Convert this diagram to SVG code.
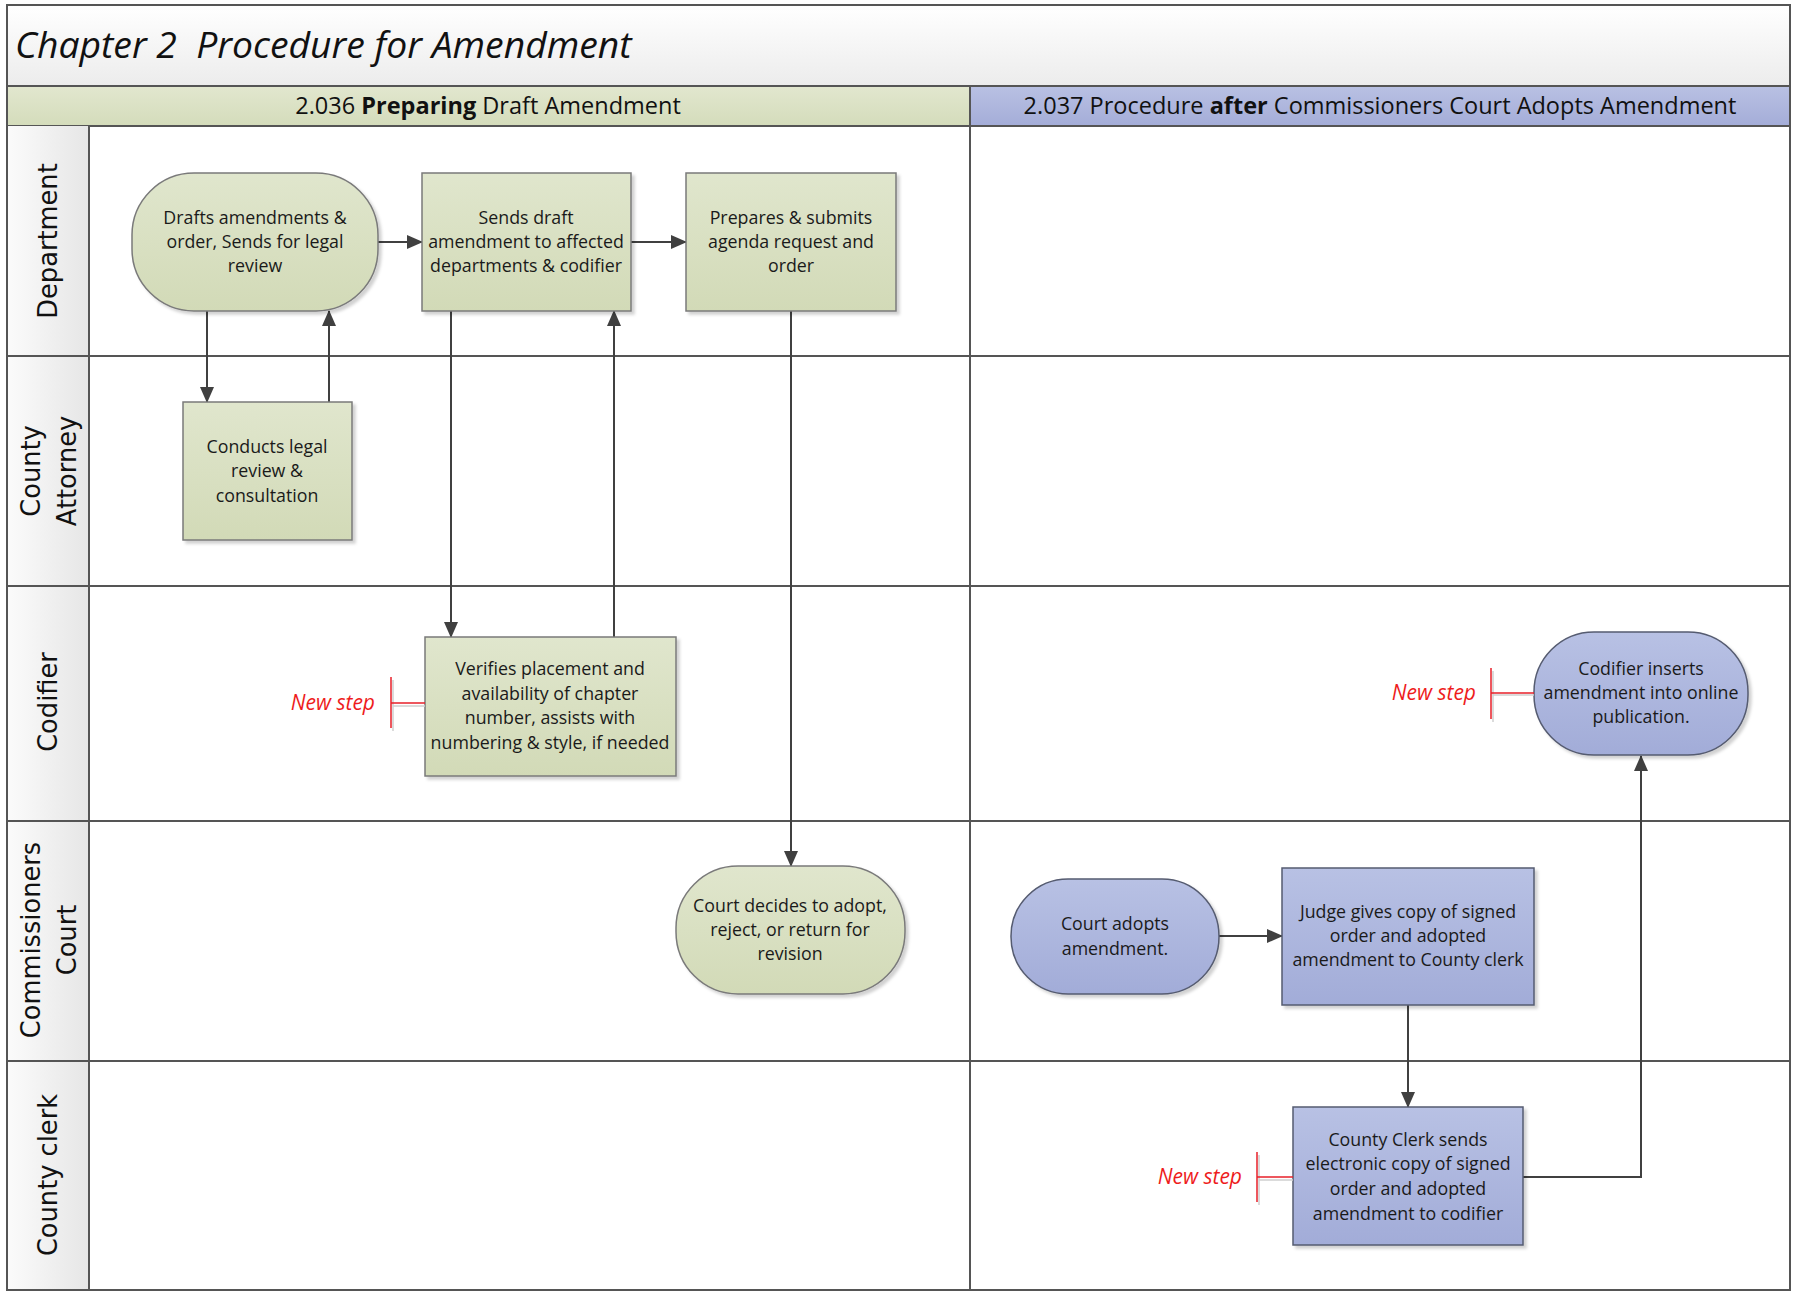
<svg xmlns="http://www.w3.org/2000/svg" width="1797" height="1291" viewBox="0 0 1797 1291">
<defs>
<linearGradient id="gTitle" x1="0" y1="0" x2="0" y2="1"><stop offset="0" stop-color="#ffffff"/><stop offset="1" stop-color="#ececec"/></linearGradient>
<linearGradient id="gLane" x1="0" y1="0" x2="1" y2="0"><stop offset="0" stop-color="#fbfbfb"/><stop offset="1" stop-color="#e6e6e6"/></linearGradient>
<linearGradient id="gPhG" x1="0" y1="0" x2="0" y2="1"><stop offset="0" stop-color="#e2e7cf"/><stop offset="1" stop-color="#d4dcbb"/></linearGradient>
<linearGradient id="gPhB" x1="0" y1="0" x2="0" y2="1"><stop offset="0" stop-color="#b9c1e3"/><stop offset="1" stop-color="#a4add8"/></linearGradient>
<linearGradient id="gNG" x1="0" y1="0" x2="0" y2="1"><stop offset="0" stop-color="#e0e6cd"/><stop offset="1" stop-color="#d2dab7"/></linearGradient>
<linearGradient id="gNB" x1="0" y1="0" x2="0" y2="1"><stop offset="0" stop-color="#b8c1e4"/><stop offset="1" stop-color="#a2acd8"/></linearGradient>
<filter id="sh" x="-10%" y="-10%" width="130%" height="130%"><feDropShadow dx="3" dy="3" stdDeviation="1.5" flood-color="#000" flood-opacity="0.18"/></filter>
<marker id="arr" markerUnits="userSpaceOnUse" markerWidth="16" markerHeight="14" viewBox="0 0 16 14" refX="15" refY="7" orient="auto"><path d="M0,0 L16,7 L0,14 Z" fill="#404040"/></marker>
<style>
.frame{fill:none;stroke:#555;stroke-width:2}
.lane{stroke:#555;stroke-width:2;fill:none}
.title{font-family:"Open Sans","DejaVu Sans",sans-serif;font-style:italic;font-size:37.3px;fill:#111;white-space:pre}
.phase{font-family:"Open Sans","DejaVu Sans",sans-serif;font-size:23.5px;fill:#111;text-anchor:middle}
.lbl{font-family:"DejaVu Sans",sans-serif;font-size:25.7px;fill:#111;text-anchor:middle}
.ng{fill:url(#gNG);stroke:#7a7a7a;stroke-width:1.5;filter:url(#sh)}
.nb{fill:url(#gNB);stroke:#555b70;stroke-width:1.5;filter:url(#sh)}
.nt{font-family:"Open Sans","DejaVu Sans",sans-serif;font-size:17.8px;fill:#1a1a1a;text-anchor:middle}
.con{stroke:#404040;stroke-width:2;fill:none;marker-end:url(#arr)}
.new{font-family:"Open Sans","DejaVu Sans",sans-serif;font-style:italic;font-size:21px;fill:#ee1c1c;text-anchor:end}
.br{stroke:#e8202a;stroke-width:1.5;fill:none}
.brs{stroke:#d0d0d0;stroke-width:1.5;fill:none}
</style>
</defs>
<rect x="0" y="0" width="1797" height="1291" fill="#ffffff"/>
<g id="pool">
<rect x="7" y="5" width="1783" height="81" fill="url(#gTitle)"/>
<text class="title" x="15" y="58" xml:space="preserve">Chapter 2  Procedure for Amendment</text>
<rect x="7" y="86" width="963" height="40" fill="url(#gPhG)" stroke="#555" stroke-width="2"/>
<rect x="970" y="86" width="820" height="40" fill="url(#gPhB)" stroke="#555" stroke-width="2"/>
<text class="phase" x="488" y="114">2.036 <tspan font-weight="bold">Preparing</tspan> Draft Amendment</text>
<text class="phase" x="1380" y="114">2.037 Procedure <tspan font-weight="bold">after</tspan> Commissioners Court Adopts Amendment</text>
<rect x="7" y="126" width="82" height="1164" fill="url(#gLane)"/>
<line class="lane" x1="89" y1="126" x2="89" y2="1290"/>
<line class="lane" x1="970" y1="126" x2="970" y2="1290"/>
<line class="lane" x1="7" y1="356" x2="1790" y2="356"/>
<line class="lane" x1="7" y1="586" x2="1790" y2="586"/>
<line class="lane" x1="7" y1="821" x2="1790" y2="821"/>
<line class="lane" x1="7" y1="1061" x2="1790" y2="1061"/>
<rect class="frame" x="7" y="5" width="1783" height="1285"/>
<text class="lbl" transform="translate(57,241) rotate(-90)">Department</text>
<text class="lbl" transform="translate(40,471) rotate(-90)">County</text>
<text class="lbl" transform="translate(76,471) rotate(-90)">Attorney</text>
<text class="lbl" transform="translate(57,702) rotate(-90)">Codifier</text>
<text class="lbl" transform="translate(40,940) rotate(-90)">Commissioners</text>
<text class="lbl" transform="translate(76,940) rotate(-90)">Court</text>
<text class="lbl" transform="translate(57,1175) rotate(-90)">County clerk</text>
</g>
<g id="connectors">
<line class="con" x1="378" y1="242" x2="422" y2="242"/>
<line class="con" x1="631" y1="242" x2="686" y2="242"/>
<line class="con" x1="207" y1="311" x2="207" y2="402"/>
<line class="con" x1="329" y1="402" x2="329" y2="311"/>
<line class="con" x1="451" y1="311" x2="451" y2="637"/>
<line class="con" x1="614" y1="637" x2="614" y2="311"/>
<line class="con" x1="791" y1="311" x2="791" y2="866"/>
<line class="con" x1="1219" y1="936" x2="1282" y2="936"/>
<line class="con" x1="1408" y1="1005" x2="1408" y2="1107"/>
<polyline class="con" points="1523,1177 1641,1177 1641,756"/>
</g>
<g id="n1"><rect class="ng" x="132" y="173" width="246" height="138" rx="62" ry="62"/>
<text class="nt" x="255" y="224">Drafts amendments &amp;</text><text class="nt" x="255" y="248">order, Sends for legal</text><text class="nt" x="255" y="272">review</text></g>
<g id="n2"><rect class="ng" x="422" y="173" width="209" height="138"/>
<text class="nt" x="526" y="224">Sends draft</text><text class="nt" x="526" y="248">amendment to affected</text><text class="nt" x="526" y="272">departments &amp; codifier</text></g>
<g id="n3"><rect class="ng" x="686" y="173" width="210" height="138"/>
<text class="nt" x="791" y="224">Prepares &amp; submits</text><text class="nt" x="791" y="248">agenda request and</text><text class="nt" x="791" y="272">order</text></g>
<g id="n4"><rect class="ng" x="183" y="402" width="169" height="138"/>
<text class="nt" x="267" y="453">Conducts legal</text><text class="nt" x="267" y="477">review &amp;</text><text class="nt" x="267" y="502">consultation</text></g>
<g id="n5"><rect class="ng" x="425" y="637" width="251" height="139"/>
<text class="nt" x="550" y="675">Verifies placement and</text><text class="nt" x="550" y="700">availability of chapter</text><text class="nt" x="550" y="724">number, assists with</text><text class="nt" x="550" y="749">numbering &amp; style, if needed</text></g>
<g id="n6"><rect class="ng" x="676" y="866" width="229" height="128" rx="62" ry="62"/>
<text class="nt" x="790" y="912">Court decides to adopt,</text><text class="nt" x="790" y="936">reject, or return for</text><text class="nt" x="790" y="960">revision</text></g>
<g id="n7"><rect class="nb" x="1011" y="879" width="208" height="115" rx="57" ry="57"/>
<text class="nt" x="1115" y="930">Court adopts</text><text class="nt" x="1115" y="955">amendment.</text></g>
<g id="n8"><rect class="nb" x="1282" y="868" width="252" height="137"/>
<text class="nt" x="1408" y="918">Judge gives copy of signed</text><text class="nt" x="1408" y="942">order and adopted</text><text class="nt" x="1408" y="966">amendment to County clerk</text></g>
<g id="n9"><rect class="nb" x="1293" y="1107" width="230" height="138"/>
<text class="nt" x="1408" y="1146">County Clerk sends</text><text class="nt" x="1408" y="1170">electronic copy of signed</text><text class="nt" x="1408" y="1195">order and adopted</text><text class="nt" x="1408" y="1220">amendment to codifier</text></g>
<g id="n10"><rect class="nb" x="1534" y="632" width="214" height="123" rx="60" ry="60"/>
<text class="nt" x="1641" y="675">Codifier inserts</text><text class="nt" x="1641" y="699">amendment into online</text><text class="nt" x="1641" y="723">publication.</text></g>
<g id="annotations">
<g id="a1"><path class="brs" d="M393,680 V731 M393,706 H425"/><path class="br" d="M391,677 V728 M391,703 H425"/><text class="new" x="375" y="710">New step</text></g>
<g id="a2"><path class="brs" d="M1493,671 V722 M1493,695 H1534"/><path class="br" d="M1491,668 V719 M1491,693 H1534"/><text class="new" x="1476" y="700">New step</text></g>
<g id="a3"><path class="brs" d="M1259,1155 V1205 M1259,1180 H1293"/><path class="br" d="M1257,1152 V1202 M1257,1177 H1293"/><text class="new" x="1242" y="1184">New step</text></g>
</g>
</svg>
